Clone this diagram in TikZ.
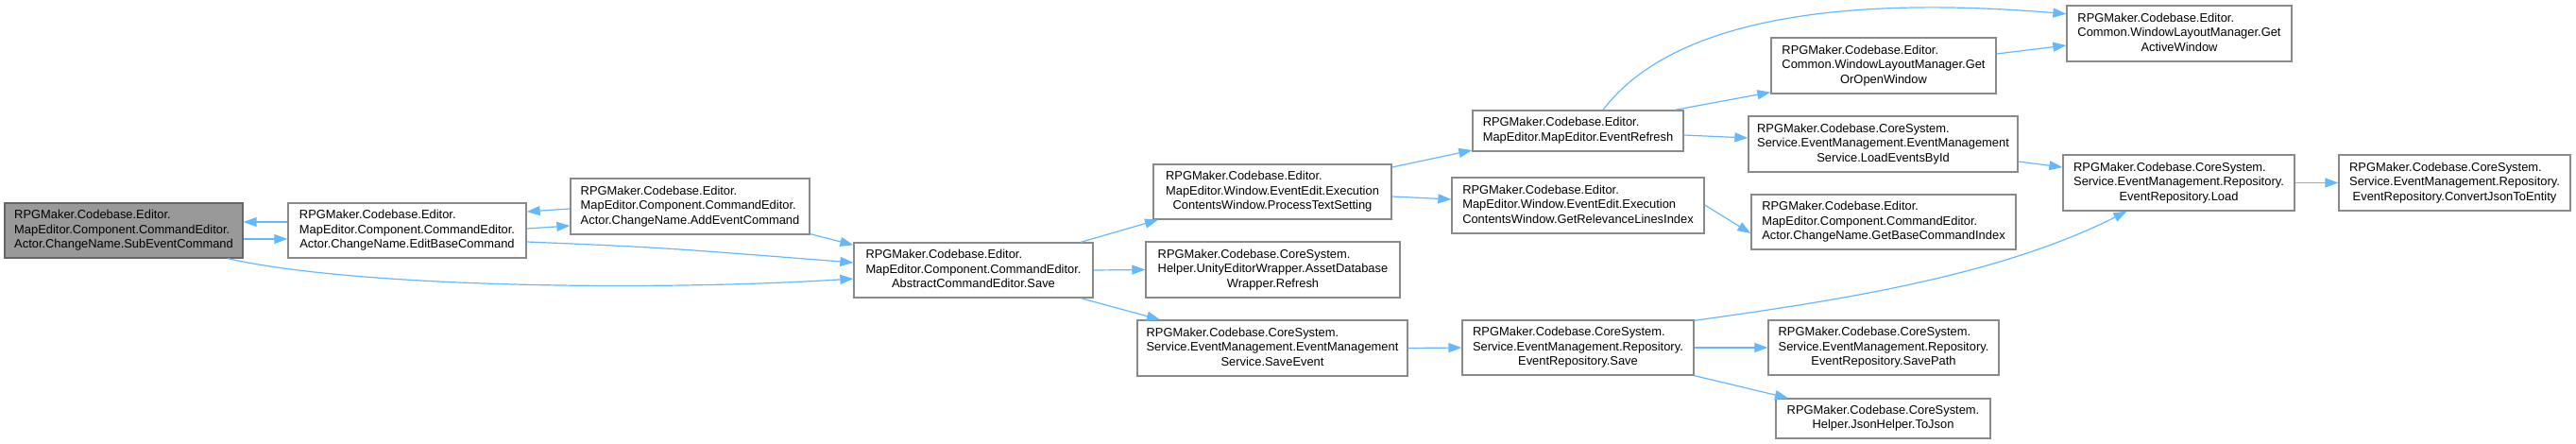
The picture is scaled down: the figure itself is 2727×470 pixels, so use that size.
\documentclass[tikz,border=0pt]{standalone}
\usepackage{fontspec}
\setmainfont{Liberation Sans}
\usetikzlibrary{arrows.meta}
\definecolor{edgeblue}{HTML}{63B8FF}
\definecolor{nodeborder}{HTML}{8A8A8A}
\definecolor{rootfill}{HTML}{999999}
\definecolor{rootborder}{HTML}{666666}
\newcommand{\lblthree}[3]{\begin{tabular}{@{}l@{}}#1\\#2\\\multicolumn{1}{@{}c@{}}{#3}\end{tabular}}
\newcommand{\lbltwo}[2]{\begin{tabular}{@{}l@{}}#1\\\multicolumn{1}{@{}c@{}}{#2}\end{tabular}}
\tikzset{
  fn/.style={draw=nodeborder, line width=1.3pt, fill=white, rectangle, inner sep=0pt,
    font=\fontsize{12.9}{15.5}\selectfont, text=black},
  rootfn/.style={fn, fill=rootfill, draw=rootborder},
  call/.style={draw=edgeblue, line width=1.2pt, -{Triangle[length=14pt,width=10pt]}},
}
\begin{document}
\begin{tikzpicture}[x=1pt,y=-1pt]
\useasboundingbox (0,0) rectangle (2727,470);
% nodes
\node[rootfn, minimum width=252pt, minimum height=58pt] (n1) at (131,244)
  {\lblthree{RPGMaker.Codebase.Editor.}{MapEditor.Component.CommandEditor.}{Actor.ChangeName.SubEventCommand}};
\node[fn, minimum width=252pt, minimum height=58pt] (n2) at (431,244)
  {\lblthree{RPGMaker.Codebase.Editor.}{MapEditor.Component.CommandEditor.}{Actor.ChangeName.EditBaseCommand}};
\node[fn, minimum width=253pt, minimum height=59pt] (n3) at (730.5,218.5)
  {\lblthree{RPGMaker.Codebase.Editor.}{MapEditor.Component.CommandEditor.}{Actor.ChangeName.AddEventCommand}};
\node[fn, minimum width=253pt, minimum height=58pt] (n4) at (1030.5,286)
  {\lblthree{RPGMaker.Codebase.Editor.}{MapEditor.Component.CommandEditor.}{AbstractCommandEditor.Save}};
\node[fn, minimum width=252pt, minimum height=58pt] (n5) at (1347,203)
  {\lblthree{RPGMaker.Codebase.Editor.}{MapEditor.Window.EventEdit.Execution}{ContentsWindow.ProcessTextSetting}};
\node[fn, minimum width=269pt, minimum height=59pt] (n6) at (1347.5,285.5)
  {\lblthree{RPGMaker.Codebase.CoreSystem.}{Helper.UnityEditorWrapper.AssetDatabase}{Wrapper.Refresh}};
\node[fn, minimum width=286pt, minimum height=59pt] (n7) at (1347,368.5)
  {\lblthree{RPGMaker.Codebase.CoreSystem.}{Service.EventManagement.EventManagement}{Service.SaveEvent}};
\node[fn, minimum width=245pt, minimum height=58pt] (n8) at (1670.5,368)
  {\lblthree{RPGMaker.Codebase.CoreSystem.}{Service.EventManagement.Repository.}{EventRepository.Save}};
\node[fn, minimum width=223pt, minimum height=43pt] (n9) at (1670.5,138.5)
  {\lbltwo{RPGMaker.Codebase.Editor.}{MapEditor.MapEditor.EventRefresh}};
\node[fn, minimum width=267pt, minimum height=59pt] (n10) at (1670.5,217.5)
  {\lblthree{RPGMaker.Codebase.Editor.}{MapEditor.Window.EventEdit.Execution}{ContentsWindow.GetRelevanceLinesIndex}};
\node[fn, minimum width=238pt, minimum height=59pt] (n11) at (1994,69.5)
  {\lblthree{RPGMaker.Codebase.Editor.}{Common.WindowLayoutManager.Get}{OrOpenWindow}};
\node[fn, minimum width=285pt, minimum height=59pt] (n12) at (1993.5,152.5)
  {\lblthree{RPGMaker.Codebase.CoreSystem.}{Service.EventManagement.EventManagement}{Service.LoadEventsById}};
\node[fn, minimum width=280pt, minimum height=58pt] (n13) at (1994,235)
  {\lblthree{RPGMaker.Codebase.Editor.}{MapEditor.Component.CommandEditor.}{Actor.ChangeName.GetBaseCommandIndex}};
\node[fn, minimum width=238pt, minimum height=59pt] (n14) at (2307,35.5)
  {\lblthree{RPGMaker.Codebase.Editor.}{Common.WindowLayoutManager.Get}{ActiveWindow}};
\node[fn, minimum width=245pt, minimum height=59pt] (n15) at (2306.5,193.5)
  {\lblthree{RPGMaker.Codebase.CoreSystem.}{Service.EventManagement.Repository.}{EventRepository.Load}};
\node[fn, minimum width=245pt, minimum height=59pt] (n16) at (2598.5,193.5)
  {\lblthree{RPGMaker.Codebase.CoreSystem.}{Service.EventManagement.Repository.}{EventRepository.ConvertJsonToEntity}};
\node[fn, minimum width=244pt, minimum height=58pt] (n17) at (1994,368)
  {\lblthree{RPGMaker.Codebase.CoreSystem.}{Service.EventManagement.Repository.}{EventRepository.SavePath}};
\node[fn, minimum width=227pt, minimum height=42pt] (n18) at (1993.5,443)
  {\lbltwo{RPGMaker.Codebase.CoreSystem.}{Helper.JsonHelper.ToJson}};
% edges
\draw[call] ([yshift=9pt]n2.west) -- ([yshift=9pt]n1.east);
\draw[call] ([yshift=-9pt]n1.east) -- ([yshift=-9pt]n2.west);
\draw[call] ([yshift=-2.5pt]n3.west) -- ([yshift=20pt]n2.east);
\draw[call] ([yshift=2pt]n2.east) -- ([yshift=-20.5pt]n3.west);
\draw[call] ([yshift=-12pt]n2.east) .. controls (700,262) .. ([yshift=8pt]n4.west);
\draw[call] ([xshift=110pt]n1.south) .. controls (380,305) and (700,308) .. ([yshift=-9pt]n4.west);
\draw[call] ([yshift=1pt]n3.south east) -- ([yshift=-3pt]n4.north west);
\draw[call] ([xshift=113.5pt]n4.north) -- ([xshift=-121pt]n5.south);
\draw[call] (n4.east) -- (n6.west);
\draw[call] ([xshift=113.5pt]n4.south) -- ([xshift=-119pt]n7.north);
\draw[call] ([yshift=26pt]n5.east) -- ([yshift=-20.5pt]n9.west);
\draw[call] ([yshift=-5pt]n5.east) -- ([yshift=6.5pt]n10.west);
\draw[call] (n7.east) -- (n8.west);
\draw[call] ([yshift=-1pt]n8.north east) .. controls (1930,320) and (2110,295) .. ([xshift=-55pt]n15.south);
\draw[call] (n8.east) -- (n17.west);
\draw[call] (n8.south east) -- ([xshift=-100.5pt]n18.north);
\draw[call] ([xshift=26.5pt]n9.north) .. controls (1770,20) and (1950,-5) .. ([yshift=20.8pt]n14.west);
\draw[call] ([xshift=102.5pt]n9.north) -- ([yshift=2pt]n11.south west);
\draw[call] ([yshift=-4.5pt]n9.east) -- ([yshift=6.5pt]n12.west);
\draw[call] ([yshift=12.5pt]n11.east) -- ([yshift=-12.5pt]n14.west);
\draw[call] ([yshift=-18.5pt]n12.east) -- ([yshift=16.5pt]n15.west);
\draw[call] ([yshift=0.5pt]n10.east) -- ([yshift=-12pt]n13.west);
\draw[call] (n15.east) -- (n16.west);
\end{tikzpicture}
\end{document}
